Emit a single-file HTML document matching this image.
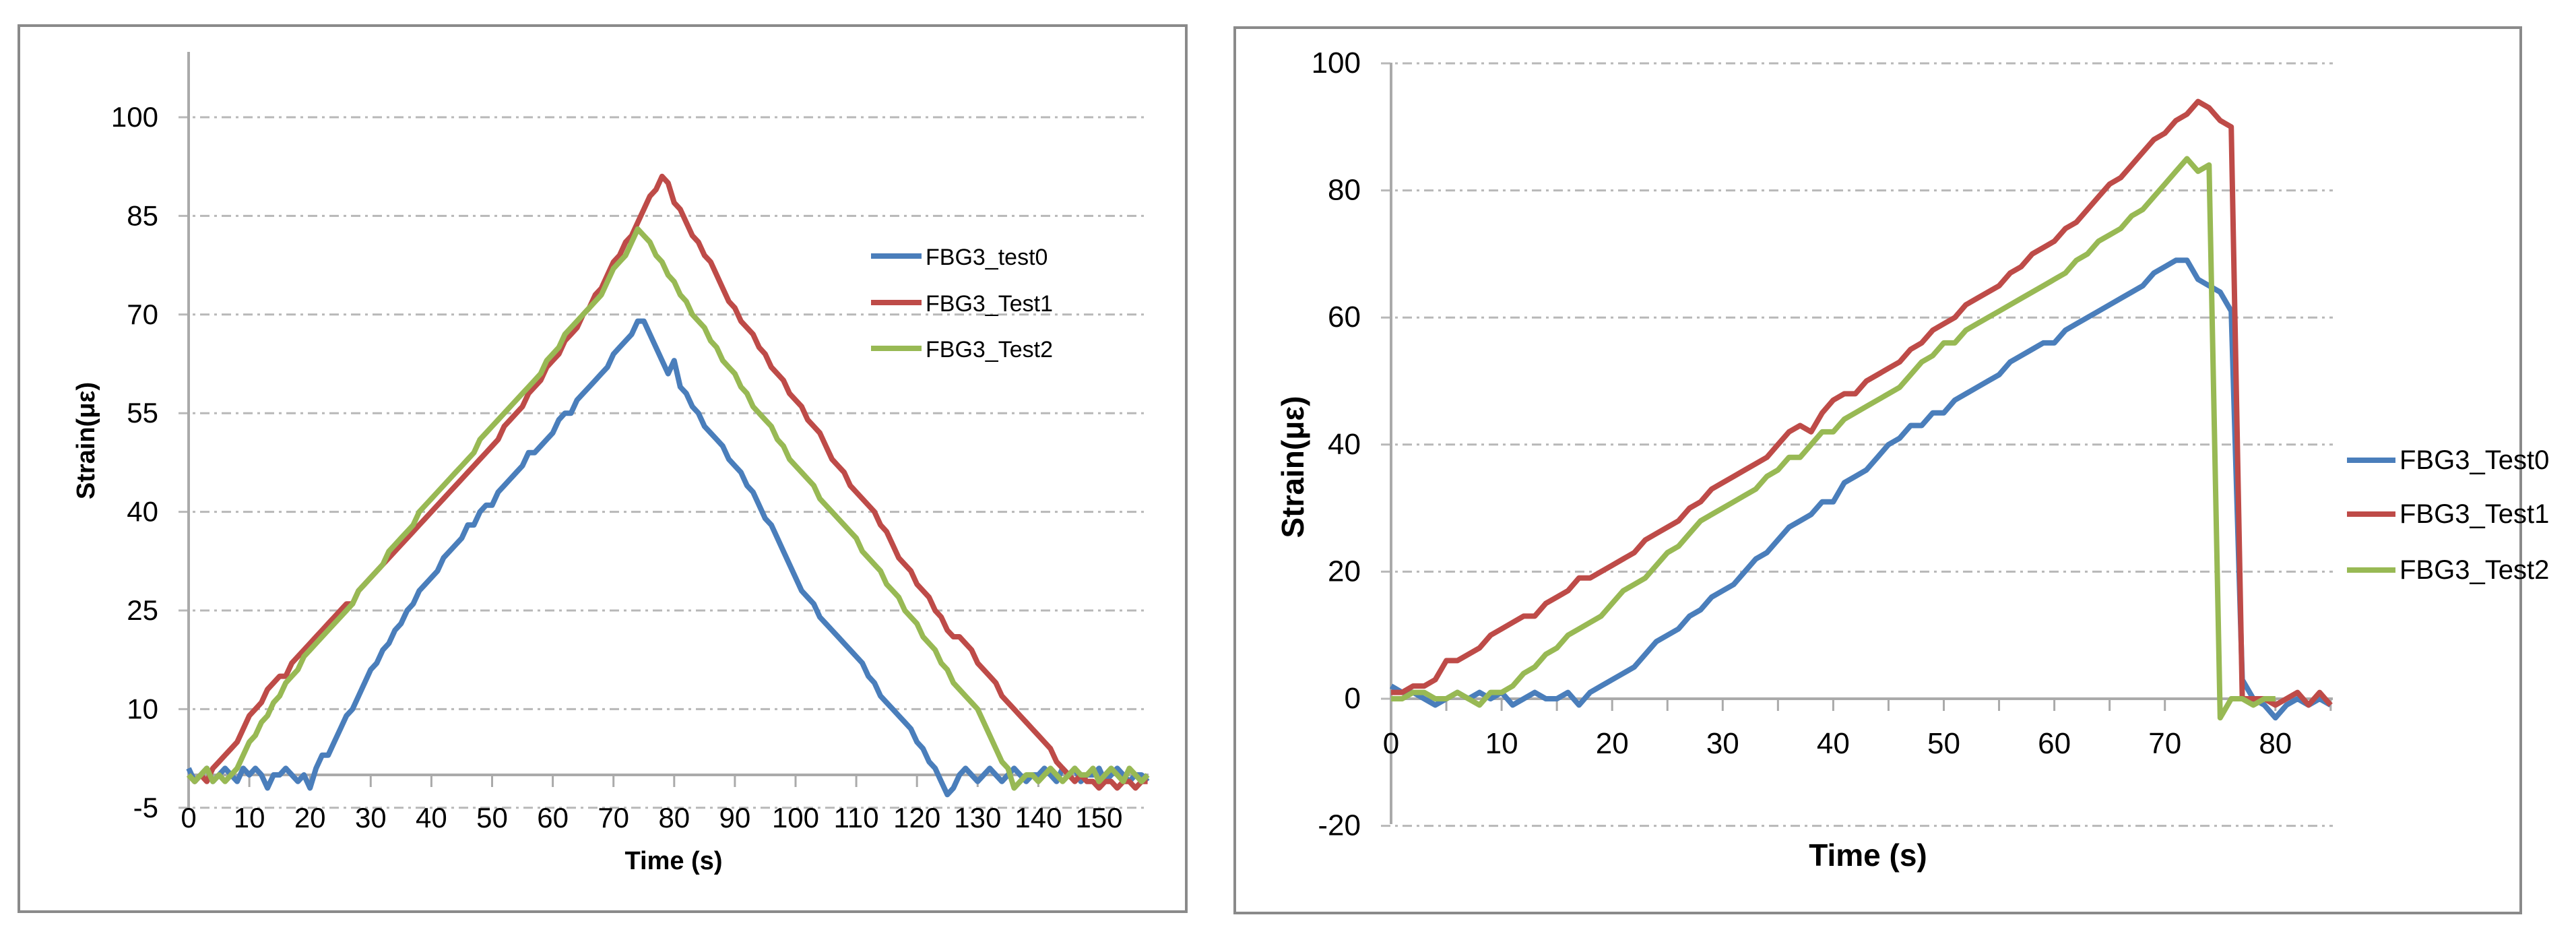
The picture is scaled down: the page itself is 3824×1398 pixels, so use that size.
<!DOCTYPE html>
<html><head><meta charset="utf-8"><style>
html,body{margin:0;padding:0;background:#fff;}
svg{display:block;font-family:"Liberation Sans",sans-serif;}
</style></head><body>
<svg id="svg" width="3824" height="1398" viewBox="0 0 3824 1398" xmlns="http://www.w3.org/2000/svg">
<rect x="0" y="0" width="3824" height="1398" fill="#fff"/>
<rect x="28" y="38" width="1733" height="1315" fill="#fff" stroke="#8a8a8a" stroke-width="4"/>
<rect x="1833" y="41" width="1909" height="1314" fill="#fff" stroke="#8a8a8a" stroke-width="4"/>
<g id="L"></g>
<g id="R"></g>
</svg>
<script>
// ---- Left chart data ----
const leftYTicks = [-5,10,25,40,55,70,85,100];
const leftXTicks = [0,10,20,30,40,50,60,70,80,90,100,110,120,130,140,150];
const leftSeriesNames = ["FBG3_test0","FBG3_Test1","FBG3_Test2"];
const leftTest0 = [1,-1,0,1,-1,0,1,0,-1,1,0,1,0,-2,0,0,1,0,-1,0,-2,
1,3,3,5,7,9,10,12,14,16,17,19,20,22,23,25,26,28,29,30,31,33,34,35,36,38,38,40,41,41,43,44,45,46,47,49,49,50,51,52,54,55,55,57,58,59,60,61,62,64,65,66,67,69,69,
67,65,63,61,63,59,58,56,55,53,52,51,50,48,47,46,44,43,41,39,38,36,34,32,30,28,27,26,24,23,22,21,20,19,18,17,15,14,12,11,10,9,8,7,5,4,2,1,-1,-3,-2,0,1,0,-1,0,1,0,-1,0,1,0,-1,0,0,1,0,-1,1,0,1,-1,0,0,1,-1,0,1,0,-1,0,0,-1];
const leftTest1 = [0,-1,0,-1,1,2,3,4,5,7,9,10,11,13,14,15,15,17,18,19,20,21,22,23,24,25,26,26,28,29,30,31,32,33,34,35,36,37,38,39,40,41,42,43,44,45,46,47,48,49,50,51,53,54,55,56,58,59,60,62,63,64,66,67,68,70,71,73,74,76,78,79,81,82,84,86,88,89,91,90,87,86,84,82,81,79,78,76,74,72,71,69,68,67,65,64,62,61,60,58,57,56,54,53,52,50,48,47,46,44,43,42,41,40,38,37,35,33,32,31,29,28,27,25,24,22,21,21,20,19,17,16,15,14,12,11,10,9,8,7,6,5,4,2,1,0,-1,0,-1,-1,-2,-1,-1,-2,-1,-1,-2,-1,-1];
const leftTest2 = [0,-1,0,1,-1,0,-1,0,1,3,5,6,8,9,11,12,14,15,16,18,19,20,21,22,23,24,25,26,28,29,30,31,32,34,35,36,37,38,40,41,42,43,44,45,46,47,48,49,51,52,53,54,55,56,57,58,59,60,61,63,64,65,67,68,69,70,71,72,73,75,77,78,79,81,83,82,81,79,78,76,75,73,72,70,69,68,66,65,63,62,61,59,58,56,55,54,53,51,50,48,47,46,45,44,42,41,40,39,38,37,36,34,33,32,31,29,28,27,25,24,23,21,20,19,17,16,14,13,12,11,10,8,6,4,2,1,-2,-1,0,0,-1,0,1,0,-1,0,1,0,0,1,-1,0,1,0,-1,1,0,-1,0];

// ---- Right chart data ----
const rightYTicks = [-20,0,20,40,60,80,100];
const rightXTicks = [0,10,20,30,40,50,60,70,80];
const rightSeriesNames = ["FBG3_Test0","FBG3_Test1","FBG3_Test2"];
const rightTest0 = [2,1,1,0,-1,0,1,0,1,0,1,-1,0,1,0,0,1,-1,1,2,3,4,5,7,9,10,11,13,14,16,17,18,20,22,23,25,27,28,29,31,31,34,35,36,38,40,41,43,43,45,45,47,48,49,50,51,53,54,55,56,56,58,59,60,61,62,63,64,65,67,68,69,69,66,65,64,61,3,0,-1,-3,-1,0,-1,0,-1];
const rightTest1 = [1,1,2,2,3,6,6,7,8,10,11,12,13,13,15,16,17,19,19,20,21,22,23,25,26,27,28,30,31,33,34,35,36,37,38,40,42,43,42,45,47,48,48,50,51,52,53,55,56,58,59,60,62,63,64,65,67,68,70,71,72,74,75,77,79,81,82,84,86,88,89,91,92,94,93,91,90,0,0,0,-1,0,1,-1,1,-1];
const rightTest2 = [0,0,1,1,0,0,1,0,-1,1,1,2,4,5,7,8,10,11,12,13,15,17,18,19,21,23,24,26,28,29,30,31,32,33,35,36,38,38,40,42,42,44,45,46,47,48,49,51,53,54,56,56,58,59,60,61,62,63,64,65,66,67,69,70,72,73,74,76,77,79,81,83,85,83,84,-3,0,0,-1,0,0];

const colors = ["#4a7ebb","#be4b48","#98b954"];
const NS = "http://www.w3.org/2000/svg";
function mk(parent, tag, attrs){const e=document.createElementNS(NS,tag);for(const k in attrs)e.setAttribute(k,attrs[k]);parent.appendChild(e);return e;}

function drawChart(g, cfg){
  const xs = v => cfg.x0 + (v - cfg.xmin) * cfg.xs;
  const ys = v => cfg.y0 - v * cfg.ys;
  // gridlines
  cfg.yTicks.forEach(t=>{
    const l=mk(g,"line",{x1:cfg.gx1,x2:cfg.gx2,y1:ys(t),y2:ys(t),stroke:"#b8b8b8","stroke-width":3,"stroke-dasharray":"14 7 4 7"});
    
    
    const tx=mk(g,"text",{x:cfg.ylabX,y:ys(t)+14,"text-anchor":"end","font-size":cfg.fs,fill:"#000"});
    tx.textContent=t;
    
    
  });
  // y-axis
  const ya=mk(g,"line",{x1:cfg.x0,x2:cfg.x0,y1:cfg.yTop,y2:cfg.yBot,stroke:"#aaa","stroke-width":4});
  
  
  // x-axis at 0
  const xa=mk(g,"line",{x1:cfg.x0,x2:cfg.gx2,y1:ys(0),y2:ys(0),stroke:"#aaa","stroke-width":4});
  
  
  for(let t=cfg.xmin;t<=cfg.xmax;t+=cfg.tickStep){
    const tk=mk(g,"line",{x1:xs(t),x2:xs(t),y1:ys(0),y2:ys(0)+18,stroke:"#aaa","stroke-width":3});
    
    
  }
  cfg.xTicks.forEach(t=>{
    const tx=mk(g,"text",{x:xs(t),y:cfg.xlabY,"text-anchor":"middle","font-size":cfg.fs,fill:"#000"});
    tx.textContent=t;
    
    
  });
  // series
  cfg.series.forEach((s,i)=>{
    const pts=s.map((v,k)=>xs(k).toFixed(1)+","+ys(v).toFixed(1)).join(" ");
    const p=mk(g,"polyline",{points:pts,fill:"none",stroke:colors[i],"stroke-width":8,"stroke-linejoin":"round"});
    
    
    const ly=cfg.legY[i];
    const ll=mk(g,"line",{x1:cfg.legX,x2:cfg.legX+cfg.legW,y1:ly,y2:ly,stroke:colors[i],"stroke-width":8});
    
    
    const lt=mk(g,"text",{x:cfg.legX+cfg.legW+6,y:ly+13,"font-size":cfg.lfs,fill:"#000"});
    lt.textContent=cfg.names[i];
    
    
  });
  const yt=mk(g,"text",{x:0,y:0,transform:`translate(${cfg.ytX},${cfg.ytY}) rotate(-90)`,"text-anchor":"middle","font-size":cfg.tfs,"font-weight":"bold",fill:"#000"});
  yt.textContent="Strain(με)";
  
  
  const xt=mk(g,"text",{x:cfg.xtX,y:cfg.xtY,"text-anchor":"middle","font-size":cfg.tfs,"font-weight":"bold",fill:"#000"});
  xt.textContent="Time (s)";
  
  
}

drawChart(document.getElementById("L"),{
  x0:280,xmin:0,xmax:158,xs:9.01,y0:1150,ys:9.76,
  gx1:265,gx2:1705,yTop:77,yBot:1200,tickStep:10,
  yTicks:leftYTicks,xTicks:leftXTicks,ylabX:235,xlabY:1228,fs:42,
  series:[leftTest0,leftTest1,leftTest2],names:leftSeriesNames,
  legX:1293,legW:75,legY:[380,449,517],lfs:34,
  ytX:140,ytY:654,xtX:1000,xtY:1290,tfs:38
});
drawChart(document.getElementById("R"),{
  x0:2065,xmin:0,xmax:85,xs:16.41,y0:1037,ys:9.43,
  gx1:2050,gx2:3463,yTop:93,yBot:1223,tickStep:5,
  yTicks:rightYTicks,xTicks:rightXTicks,ylabX:2020,xlabY:1118,fs:44,
  series:[rightTest0,rightTest1,rightTest2],names:rightSeriesNames,
  legX:3484,legW:72,legY:[683,763,846],lfs:40,
  ytX:1935,ytY:693,xtX:2773,xtY:1285,tfs:46
});
</script>
</body></html>
